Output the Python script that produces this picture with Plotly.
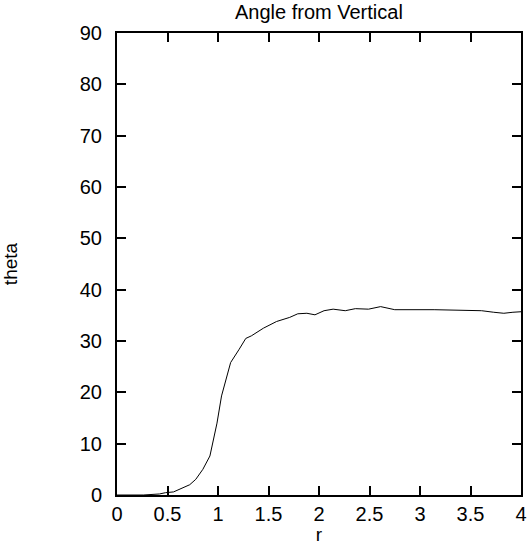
import plotly.graph_objects as go

r_vals = [0.0, 0.26, 0.42, 0.48, 0.56, 0.62, 0.72, 0.78, 0.85, 0.92, 0.95, 0.99, 1.035,
          1.125, 1.21, 1.275, 1.33, 1.45, 1.58, 1.71, 1.79, 1.88, 1.96, 2.05, 2.14, 2.26,
          2.36, 2.49, 2.61, 2.75, 3.14, 3.46, 3.61, 3.73, 3.83, 3.92, 4.0]
theta_vals = [0.0, 0.0, 0.2, 0.45, 0.6, 1.1, 2.0, 3.05, 5.0, 7.6, 10.1, 14.0, 19.3,
              25.8, 28.4, 30.5, 31.0, 32.5, 33.8, 34.6, 35.3, 35.4, 35.1, 35.9, 36.2, 35.9,
              36.3, 36.2, 36.7, 36.1, 36.1, 36.0, 35.9, 35.6, 35.4, 35.6, 35.7]

x_ticks = [0, 0.5, 1, 1.5, 2, 2.5, 3, 3.5, 4]
x_labels = ["0", "0.5", "1", "1.5", "2", "2.5", "3", "3.5", "4"]
y_ticks = [0, 10, 20, 30, 40, 50, 60, 70, 80, 90]
y_labels = [str(v) for v in y_ticks]

font = dict(family="Liberation Sans, Arial, sans-serif", size=20, color="black")
xfont = dict(family="Liberation Sans, Arial, sans-serif", size=19, color="black")

fig = go.Figure(go.Scatter(x=r_vals, y=theta_vals, mode="lines",
                           line=dict(color="black", width=1), showlegend=False,
                           cliponaxis=False))

axis_common = dict(showgrid=False, zeroline=False, showline=True, linecolor="black",
                   linewidth=2, mirror="allticks", ticks="inside", ticklen=9,
                   tickwidth=1.5, tickcolor="black")

fig.update_layout(
    width=528, height=545,
    margin=dict(l=117, r=7, t=33, b=50, autoexpand=False),
    paper_bgcolor="white", plot_bgcolor="white",
    font=font,
    title=dict(text="Angle from Vertical", x=0.604, xanchor="center", y=0.978, yanchor="middle",
               font=font),
    xaxis=dict(range=[0, 4], tickvals=x_ticks, ticktext=x_labels, tickfont=font,
               title=dict(text="r", standoff=3, font=xfont), ticklabelstandoff=0, **axis_common),
    yaxis=dict(range=[0, 90], tickvals=y_ticks, ticktext=y_labels, tickfont=font,
               title=dict(text="theta", standoff=59, font=xfont), ticklabelstandoff=9, **axis_common),
)

fig.write_html("out.html", config={"displayModeBar": False},
               post_script="document.body.style.margin='0';document.body.style.overflow='hidden';")
